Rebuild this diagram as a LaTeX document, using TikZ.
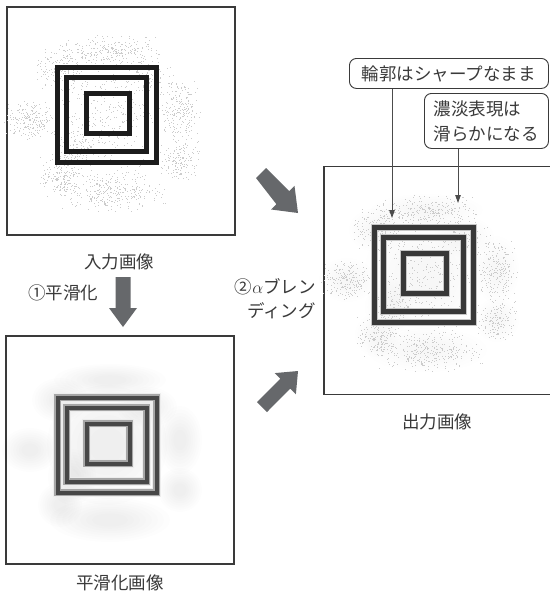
\documentclass[tikz,border=0pt]{standalone}
\usepackage{fontspec}
\setmainfont{Noto Sans CJK JP}
\usetikzlibrary{arrows.meta}
\definecolor{frame}{HTML}{3A3A3A}
\definecolor{arr}{HTML}{66686B}
\definecolor{ink}{HTML}{1C1C1C}
\definecolor{txt}{HTML}{3A3A3A}
\tikzset{
  panel/.style={draw=frame, line width=1.2pt, minimum width=228pt, minimum height=228pt, inner sep=0pt},
  label/.style={text=txt, font=\fontsize{17.5}{24}\selectfont, inner sep=0pt},
  callout/.style={draw=frame, line width=0.9pt, rounded corners=7pt, text=txt, font=\fontsize{17.5}{25}\selectfont, inner sep=0pt, align=left},
  pointer/.style={draw=black!70, line width=0.9pt, -{Triangle[length=8pt,width=5.5pt]}},
  blockarrow/.style={fill=arr, draw=none},
  dot/.style={fill=black!20},
}
\newcommand\sqpaths[1]{%
  \draw[#1] (50.5,60.5) rectangle (149.5,155.5);
  \draw[#1] (59.5,70.5) rectangle (139.5,144.5);
  \draw[#1] (79.5,86.5) rectangle (122.5,126.5);
}
\newcommand\blobclusters{23/113/14/11/200, 53/63/14/11/170, 103/43/28/8/260, 173/103/11/17/200, 173/153/11/11/150, 103/183/30/11/320, 53/168/11/11/150, 100/108/30/30/300, 140/70/15/10/110, 65/140/12/14/130}
\newcommand\noisedots{%
  \foreach \cx/\cy/\rx/\ry/\n in \blobclusters {%
    \foreach \k in {1,...,\n} {%
      \pgfmathsetmacro\px{\cx+\rx*(rand+rand)}%
      \pgfmathsetmacro\py{\cy+\ry*(rand+rand)}%
      \fill[dot] (\px,\py) rectangle ++(0.9,0.9);
    }%
  }%
}
\newcommand\haze[1]{%
  \foreach \cx/\cy/\rx/\ry/\n in \blobclusters {%
    \foreach \s in {2.0,1.8,1.6,1.4,1.2,1.0,0.8,0.6} {%
      \fill[black, opacity=#1] (\cx,\cy) ellipse ({\rx*\s} and {\ry*\s});
    }%
  }%
}
\begin{document}
\begin{tikzpicture}[x=1pt, y=-1pt]
\useasboundingbox (0,0) rectangle (549,597);
\fill[white] (0,0) rectangle (549,597);

% ---- input image (top left)
\node[panel] (inimg) at (121,121) {};
\begin{scope}[shift={(7,7)}]
  \pgfmathsetseed{11}
  \noisedots
  \sqpaths{ink, line width=5pt}
\end{scope}
\node[label] (inlbl) at (119,262) {入力画像};

% ---- smoothed image (bottom left)
\node[panel] (smimg) at (120,450) {};
\begin{scope}[shift={(7,337)}]
  \haze{0.006}
  \sqpaths{black!7, line width=9.5pt}
  \sqpaths{black!35, line width=6.5pt}
  \sqpaths{black!72, line width=4pt}
\end{scope}
\node[label] (smlbl) at (120,583) {平滑化画像};

% ---- output image (right)
\node[panel] (outimg) at (438,280.5) {};
\begin{scope}[shift={(324,167)}]
  \haze{0.004}
  \pgfmathsetseed{11}
  \noisedots
  \sqpaths{black!22, line width=7.5pt}
  \sqpaths{black!78, line width=5pt}
\end{scope}
\node[label] (outlbl) at (437,422) {出力画像};

% ---- step labels
\node[label, anchor=center] (step1) at (63,293) {①平滑化};
\node[label, align=right, anchor=north east] (step2) at (316,278) {②$\alpha$ブレン\\ディング};

% ---- block arrows
\fill[blockarrow] (115.5,277) -- (130.5,277) -- (130.5,308) -- (137,308) -- (123,327) -- (109,308) -- (115.5,308) -- cycle;
\fill[blockarrow] (266,168) -- (289.2,191.2) -- (294.5,185.9) -- (298,213) -- (271.1,209.5) -- (276.4,204.2) -- (256,178) -- cycle;
\fill[blockarrow] (267,412) -- (290.2,388.7) -- (295.9,394.3) -- (298,371) -- (274.7,373.1) -- (280.3,378.8) -- (257,402) -- cycle;

% ---- callouts
\node[callout, minimum width=199pt, minimum height=30pt, anchor=north west] (c1) at (349,58) {輪郭はシャープなまま};
\node[callout, minimum width=124pt, minimum height=55pt, anchor=north west] (c2) at (424,93) {濃淡表現は\\滑らかになる};
\coordinate (t1) at (392,218);
\coordinate (t2) at (458,203);
\draw[pointer] (c1.south -| t1) -- (t1);
\draw[pointer] (c2.south -| t2) -- (t2);
\end{tikzpicture}
\end{document}
